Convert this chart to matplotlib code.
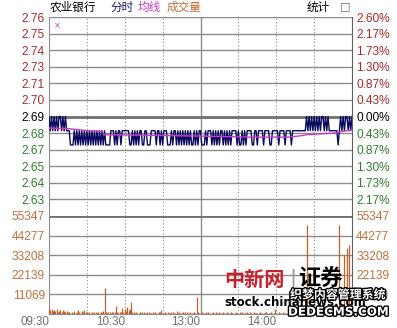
import numpy as np
import matplotlib
matplotlib.use("Agg")
import matplotlib.pyplot as plt
import matplotlib.patheffects as pe

plt.rcParams['font.family'] = ['Liberation Sans', 'Noto Sans CJK SC', 'DejaVu Sans']

# minute prices, 09:30 .. 15:00 (241 points); 9 = 2.69, 8 = 2.68, 7 = 2.67
price_chunks = [
    "9898989899", "8989888777", "8787878787", "8787878787", "8787877778",
    "8878788788", "8888778787", "8788778877", "7888878878", "7888777878",
    "8787878787", "8787787878", "8777878887", "8787878878", "7878788887",
    "8778787888", "8778878888", "7888877888", "8878888788", "8878888888",
    "8888989898", "9898989989", "8988888887", "8989899898", "9",
]
price_level = {"9": 2.69, "8": 2.68, "7": 2.67}
prices = [price_level[c] for c in "".join(price_chunks)]

# average price line, read at a few minutes
avg_minutes = [0, 15, 30, 42, 44, 80, 120, 160, 190, 200, 204, 228, 232, 240]
avg_prices = [2.6818, 2.6815, 2.6800, 2.6795, 2.6772, 2.6768, 2.6762, 2.6755,
              2.6755, 2.6765, 2.6772, 2.6785, 2.6795, 2.6805]

# minute volumes
volumes = [
    3200, 2100, 2600, 1500, 2400, 1800, 2700, 1200, 1900, 2300, 1400, 2000, 1600, 1100, 1800, 900, 1300, 700, 1000, 800, 1500, 600, 900, 2100,
    1200, 800, 1700, 1000, 2400, 1300, 900, 700, 1100, 800, 1400, 600, 900, 1200, 700, 1000, 800, 1300, 900, 1600, 14700, 1100, 700, 900,
    1200, 800, 1400, 900, 1000, 4500, 1300, 800, 1100, 900, 3400, 1200, 2600, 1500, 3800, 2200, 3000, 6800, 1400, 900, 700, 1100, 800, 600,
    900, 700, 1000, 1300, 800, 600, 900, 1100, 700, 800, 1000, 600, 1200, 800, 700, 900, 1000, 2200, 800, 600, 900, 700, 1100, 800,
    600, 900, 1000, 700, 800, 1500, 700, 900, 600, 800, 1000, 700, 900, 1100, 800, 600, 900, 700, 800, 1000, 700, 9600, 1200, 800,
    700, 900, 600, 800, 1000, 700, 900, 600, 800, 700, 1100, 600, 900, 800, 700, 1000, 600, 800, 900, 700, 600, 900, 800, 700,
    1000, 700, 800, 600, 900, 700, 800, 1100, 600, 900, 700, 800, 600, 900, 700, 1000, 800, 600, 900, 700, 800, 600, 700, 900,
    800, 700, 600, 900, 1000, 700, 800, 600, 900, 700, 800, 2800, 700, 600, 900, 800, 700, 1000, 600, 800, 700, 900, 3400, 800,
    700, 900, 600, 800, 1100, 700, 900, 1200, 800, 1000, 1500, 1300, 50300, 1800, 1200, 900, 1400, 1000, 1600, 1100, 800, 1300, 900, 1200,
    1000, 1400, 800, 1200, 900, 1100, 1500, 1000, 1300, 900, 1600, 1200, 1800, 2100, 50300, 2400, 1900, 2800, 33300, 3100, 37300, 2600, 39000, 4200,
    2500,
]

prev_close = 2.69
price_labels = ["2.63", "2.64", "2.65", "2.67", "2.68", "2.69",
                "2.70", "2.71", "2.73", "2.74", "2.75", "2.76"]
pct_labels = ["2.17%", "1.73%", "1.30%", "0.87%", "0.43%", "0.00%",
              "0.43%", "0.87%", "1.30%", "1.73%", "2.17%", "2.60%"]
vol_ticks = [11069, 22139, 33208, 44277, 55347]
time_ticks = [0, 60, 120, 180]
time_labels = ["09:30", "10:30", "13:00", "14:00"]

RED = "#b0282a"
GREEN = "#2f7f2f"
ORANGE = "#c0703a"
NAVY = "#0a0a60"
MAGENTA = "#cc3acc"
GRID = "#8c8c8c"
FS = 8.6

W, H = 397, 328
fig = plt.figure(figsize=(W / 100, H / 100), dpi=100)
fig.patch.set_facecolor("white")

def box(x0, y0, x1, y1):
    return [x0 / W, 1 - y1 / H, (x1 - x0) / W, (y1 - y0) / H]

axp = fig.add_axes(box(49, 17, 352, 216))
axv = fig.add_axes(box(49, 216, 352, 314))

step = prev_close * 0.026 / 6
pticks = [prev_close + k * step for k in range(-5, 7)]
x = np.arange(len(prices))

for ax in (axp, axv):
    ax.set_xlim(0, 240)
    for m in [30, 60, 90, 150, 180, 210]:
        ax.axvline(m, color=GRID, lw=0.8, ls=(0, (1, 2)), zorder=1)
    ax.axvline(120, color=GRID, lw=1.0, zorder=1)
    ax.tick_params(length=0, labelsize=FS, pad=3)
    for s in ax.spines.values():
        s.set_color(GRID)
    ax.spines['top'].set_visible(False)
    ax.spines['right'].set_color("#606060")

# price panel
axp.set_ylim(prev_close - 6 * step, prev_close + 6 * step)
for k, t in zip(range(-5, 7), pticks):
    axp.axhline(t, color="#707070" if k == 0 else GRID, lw=2.0 if k == 0 else 1.0, zorder=1)
axp.plot(x, prices, color=NAVY, lw=1.0, zorder=3)
axp.plot(avg_minutes, avg_prices, color=MAGENTA, lw=1.0, zorder=4)
axp.set_yticks(pticks, price_labels)
axp.set_xticks([])
axp.spines['bottom'].set_visible(False)
for k, lab in zip(range(-5, 7), axp.get_yticklabels()):
    lab.set_color(RED if k > 0 else ("black" if k == 0 else GREEN))

axr = axp.twinx()
axr.set_ylim(axp.get_ylim())
axr.set_yticks(pticks, pct_labels)
axr.tick_params(length=0, labelsize=FS, pad=3)
for s in axr.spines.values():
    s.set_visible(False)
for k, lab in zip(range(-5, 7), axr.get_yticklabels()):
    lab.set_color(RED if k > 0 else ("black" if k == 0 else GREEN))

# volume panel
axv.set_ylim(0, vol_ticks[-1])
for i, t in enumerate(vol_ticks):
    axv.axhline(t, color="#707070" if i == 4 else GRID, lw=2.0 if i == 4 else 1.0, zorder=1)
axv.vlines(x, 0, volumes, color="#c4602a", lw=0.9, zorder=3)
axv.set_yticks(vol_ticks, [str(v) for v in vol_ticks])
for lab in axv.get_yticklabels():
    lab.set_color(ORANGE)
axv.set_xticks(time_ticks, time_labels)
axv.tick_params(axis="x", pad=1.5, labelsize=8.4)
for lab in axv.get_xticklabels():
    lab.set_color("#707070")
    lab.set_ha("right")

axvr = axv.twinx()
axvr.set_ylim(axv.get_ylim())
axvr.set_yticks(vol_ticks, [str(v) for v in vol_ticks])
axvr.tick_params(length=0, labelsize=FS, pad=3)
for s in axvr.spines.values():
    s.set_visible(False)
for lab in axvr.get_yticklabels():
    lab.set_color(ORANGE)

# header
cjk = ['Noto Sans CJK SC', 'DejaVu Sans']
def ftext(px, py, s, **kw):
    fig.text(px / W, 1 - py / H, s, va="center", **kw)

ftext(50, 7, "农业银行", family=cjk, fontsize=8.4, color="black")
ftext(110, 7, "分时", family=cjk, fontsize=8.4, color="#1a1a70")
ftext(138, 7, "均线", family=cjk, fontsize=8.4, color=MAGENTA)
ftext(167, 7, "成交量", family=cjk, fontsize=8.4, color=ORANGE)
ftext(307, 7, "统计", family=cjk, fontsize=8.4, color="black")
ftext(340, 6, "□", family=['DejaVu Sans'], fontsize=8, color="#666666")
ftext(54, 26, "×", family=['DejaVu Sans'], fontsize=6, color=MAGENTA)

# watermark
ftext(224, 279, "中新网", family=cjk, fontsize=14.5, color="#c8202c", weight="bold")
ftext(289, 279, "|", family=['DejaVu Sans'], fontsize=15, color="#999999")
ftext(298, 279, "证券", family=cjk, fontsize=16, color="black", weight="bold")
ftext(224, 303, "stock.chinanews.com", family=['DejaVu Sans'], fontsize=8.5,
      color="black", weight="bold")
stroke = [pe.withStroke(linewidth=2, foreground="black")]
fig.text(290 / W, 1 - 295 / H, "织梦内容管理系统", family=cjk, fontsize=8.6,
         color="white", va="center", weight="bold", path_effects=stroke)
fig.text(288 / W, 1 - 312 / H, "DEDECMS.COM", family=['DejaVu Sans'],
         fontsize=8.6, color="white", va="center", weight="bold", path_effects=stroke)

fig.savefig("out.png", dpi=100)
